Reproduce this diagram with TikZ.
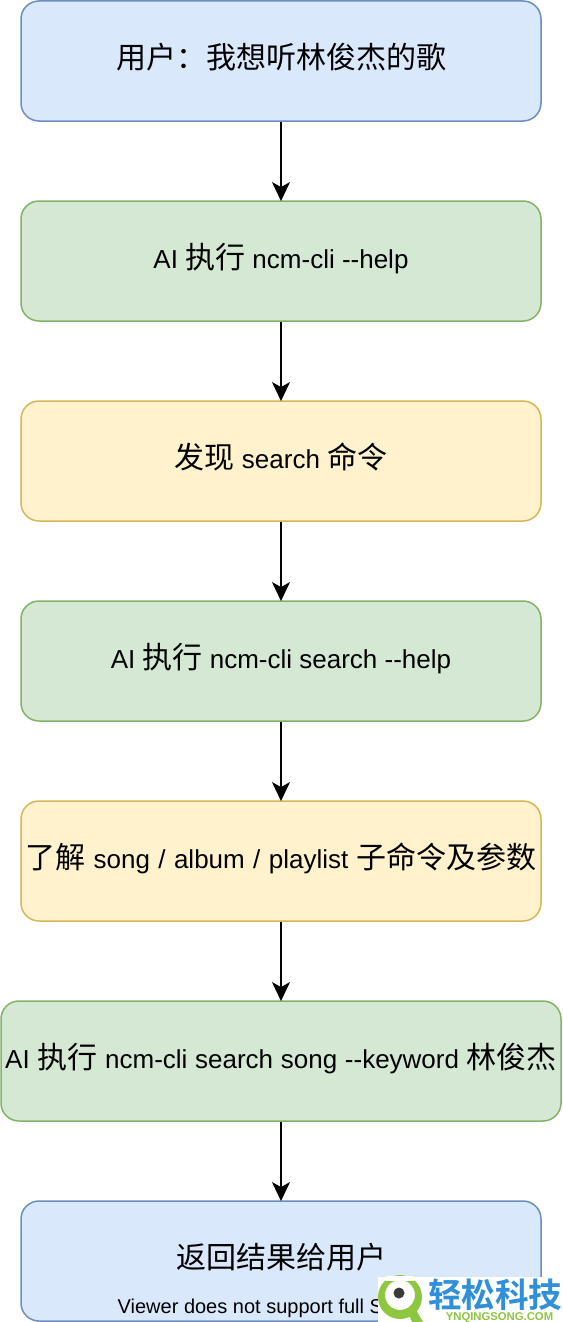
\documentclass[tikz,border=0pt]{standalone}
\usepackage{fontspec}
\setmainfont{Liberation Sans}
\newfontfamily\cjk{Noto Sans CJK SC}[Scale=1.0]
\newfontfamily\cjkb{Noto Sans CJK SC Bold}
\usetikzlibrary{arrows.meta}
\newcommand{\cn}[1]{{\fontsize{30pt}{32pt}\selectfont\cjk #1}}
\tikzset{
  flowbox/.style={draw,line width=1.5pt,rounded corners=18pt,minimum height=120pt,inner sep=0pt,font=\fontsize{26pt}{30pt}\selectfont,text height=22pt,text depth=8pt},
  wide/.style={flowbox,minimum width=520pt},
  wider/.style={flowbox,minimum width=560pt},
  bluebox/.style={fill=blueF,draw=blueD},
  greenbox/.style={fill=greenF,draw=greenD},
  yellowbox/.style={fill=yellowF,draw=yellowD},
  link/.style={draw=black,line width=1.5pt,shorten >=-0.8pt,-{Stealth[length=19pt,width=18pt,inset=5pt]}},
  plain/.style={inner sep=0pt,outer sep=0pt}
}
\definecolor{blueF}{HTML}{DAE8FC}\definecolor{blueD}{HTML}{6C8EBF}
\definecolor{greenF}{HTML}{D5E8D4}\definecolor{greenD}{HTML}{82B366}
\definecolor{yellowF}{HTML}{FFF2CC}\definecolor{yellowD}{HTML}{D6B656}
\definecolor{wmblue}{HTML}{2F8FD8}\definecolor{wmgreen}{HTML}{8DC63F}\definecolor{wmeye}{HTML}{3A3A3A}
\begin{document}
\begin{tikzpicture}[x=1pt,y=-1pt]
\useasboundingbox (0,0) rectangle (562,1322);
\node[wide,bluebox] (a) at (281,61) {\cn{用户：我想听林俊杰的歌}};
\node[wide,greenbox] (b) at (281,261) {AI \cn{执行} ncm-cli {-}{-}help};
\node[wide,yellowbox] (c) at (281,461) {\cn{发现} search \cn{命令}};
\node[wide,greenbox] (d) at (281,661) {AI \cn{执行} ncm-cli search {-}{-}help};
\node[wide,yellowbox] (e) at (281,861) {\spaceskip=8.4pt\cn{了解} song / album / playlist \cn{子命令及参数}};
\node[wider,greenbox] (f) at (281,1061) {\spaceskip=7.7pt AI \cn{执行} ncm-cli search song {-}{-}keyword \cn{林俊杰}};
\node[wide,bluebox] (g) at (281,1261) {\cn{返回结果给用户}};
\foreach \s/\t in {a/b,b/c,c/d,d/e,e/f,f/g} \draw[link] (\s) -- (\t);
\node[plain,font=\fontsize{20pt}{22pt}\selectfont,anchor=base] (v) at (281.5,1313) {Viewer does not support full SVG 1.1};
% watermark
\fill[white] (378,1277) rectangle (562,1322);
\fill[wmgreen,even odd rule] (400,1297) circle (22) (400,1295) circle (15);
\fill[white] (386,1276) rectangle (414,1281);
\fill[wmgreen] (408,1312) -- (415,1308) -- (423,1322) -- (412,1322) -- cycle;
\fill[wmeye] (399,1293) circle (5.5);
\node[plain,text=wmblue,font=\fontsize{33.6pt}{35pt}\selectfont\cjkb,anchor=base west] (w1) at (428,1307) {轻松科技};
\node[plain,text=wmgreen,font=\fontsize{11.3pt}{12pt}\selectfont\bfseries,anchor=base] (w2) at (499.5,1320) {YNQINGSONG.COM};
\end{tikzpicture}
\end{document}
